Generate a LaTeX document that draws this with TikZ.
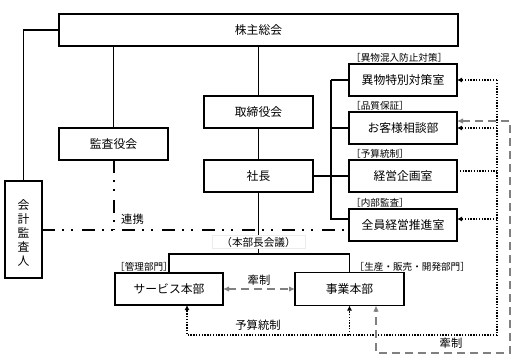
\documentclass[tikz,border=0pt]{standalone}
\usepackage{fontspec}
\setmainfont{Noto Sans CJK JP}
\usetikzlibrary{arrows.meta,calc}
\begin{document}
\begin{tikzpicture}[x=1pt,y=-1pt,
 box/.style={draw,line width=1.4pt,minimum width=108pt,minimum height=32pt,inner sep=0pt,outer sep=0pt,font=\fontsize{11.8}{13}\selectfont},
 tag/.style={font=\fontsize{9.6}{10}\selectfont,inner sep=1pt,anchor=south west},
 conn/.style={line width=1.4pt},
 dotl/.style={line width=1.5pt,dash pattern=on 1.4pt off 1.4pt},
 tip/.style={-{Latex[length=5pt,width=5pt]}},
 gtip/.style={{Latex[length=6pt,width=5.5pt]}-{Latex[length=6pt,width=5.5pt]}},
 gdash/.style={line width=2.3pt,gray,dash pattern=on 8pt off 5pt},
 ddot/.style={line width=2pt,dash pattern=on 13pt off 7pt on 2pt off 7pt on 2pt off 9pt},
 lab/.style={font=\fontsize{11.3}{12}\selectfont,inner sep=1pt}]
\useasboundingbox (0,0) rectangle (517,360);

% boxes
\node[box,minimum width=399pt] (kabu) at (258.5,30) {株主総会};
\node[box,minimum width=109pt] (kansa) at (113.5,144) {監査役会};
\node[box,minimum width=109pt] (tori) at (258.5,112) {取締役会};
\node[box,minimum width=109pt] (shacho) at (258.5,176) {社長};
\node[box] (ibutsu) at (403,80) {異物特別対策室};
\node[box] (okyaku) at (403,128) {お客様相談部};
\node[box] (keiei) at (403,176) {経営企画室};
\node[box] (zenin) at (403,225) {全員経営推進室};
\node[box,minimum width=37pt,minimum height=97pt] (kaikei) at (23.5,229.5) {};
\node[font=\fontsize{11.8}{14}\selectfont,align=center,inner sep=0pt] (kaikeitxt) at (23.5,233) {会\\計\\監\\査\\人};
\node[box] (service) at (169,289) {サービス本部};
\node[box,minimum width=109pt,minimum height=33pt] (jigyo) at (349.5,289) {事業本部};

% tags
\node[tag] (t1) at ([xshift=1pt]ibutsu.north west) {［異物混入防止対策］};
\node[tag] (t2) at ([xshift=1pt]okyaku.north west) {［品質保証］};
\node[tag] (t3) at ([xshift=1pt]keiei.north west) {［予算統制］};
\node[tag] (t4) at ([xshift=1pt]zenin.north west) {［内部監査］};
\node[tag] (t5) at ([xshift=-1pt]service.north west) {［管理部門］};
\node[tag] (t6) at ([xshift=4pt]jigyo.north) {［生産・販売・開発部門］};

% coordinates
\coordinate (bus) at (331,0);
\coordinate (hq) at (258.5,254);
\coordinate (dd) at (0,230);
\coordinate (dx) at (497,335);
\coordinate (zj) at ([yshift=6pt]zenin.west);

% solid connectors
\draw[conn] (kansa.north) -- (kansa.north |- kabu.south);
\draw[conn] (tori.north) -- (tori.north |- kabu.south);
\draw[conn] (tori.south) -- (shacho.north);
\draw[conn] (kabu.west) -| (kaikei.north);
\draw[conn] (shacho.east) -- (shacho.east -| bus);
\draw[conn] (bus |- ibutsu.west) |- (zj);
\draw[conn] (bus |- ibutsu.west) -- (ibutsu.west);
\draw[conn] (bus |- okyaku.west) -- (okyaku.west);
\draw[conn] (bus |- keiei.west) -- (keiei.west);
\draw[conn] (shacho.south) -- (hq);
\draw[conn] (service.north) |- (jigyo.north |- hq) -- (jigyo.north);

% dash-dot-dot
\draw[ddot] (kaikei.east |- dd) -- (zenin.west |- dd);
\draw[ddot] (kansa.south) -- (kansa.south |- dd);
\node[lab,anchor=west] (renkei) at (120,219) {連携};

\node[font=\fontsize{10.6}{11}\selectfont,fill=white,draw=gray!15,line width=0.4pt,inner sep=1.5pt,minimum width=93pt] (kaigi) at (258.5,242) {（本部長会議）};

% gray dashed between HQs
\draw[gdash,gtip] (service.east) -- (jigyo.west);
\node[lab] (ken1) at (259,280) {牽制};

% dotted network
\draw[dotl,tip] (ibutsu.east -| dx) -- (ibutsu.east);
\draw[dotl] (ibutsu.east -| dx) -- (dx);
\draw[dotl,tip] (okyaku.east -| dx) -- (okyaku.east);
\draw[dotl] ([yshift=5pt]keiei.east) -- ([yshift=5pt]keiei.east -| dx);
\draw[dotl,tip] (zj -| dx) -- ([yshift=6pt]zenin.east);
\draw[dotl,tip] (dx) -| ([xshift=18pt]service.south);
\draw[dotl,tip] (jigyo.south |- dx) -- (jigyo.south);
\node[lab] (yosan) at (258,325) {予算統制};

% gray dashed loop
\coordinate (gc) at (510,353);
\draw[gdash,gtip] ([yshift=7pt]okyaku.east) -| (gc) -| ([xshift=26.5pt]jigyo.south);
\node[lab] (ken2) at (451,343) {牽制};
\end{tikzpicture}
\end{document}
